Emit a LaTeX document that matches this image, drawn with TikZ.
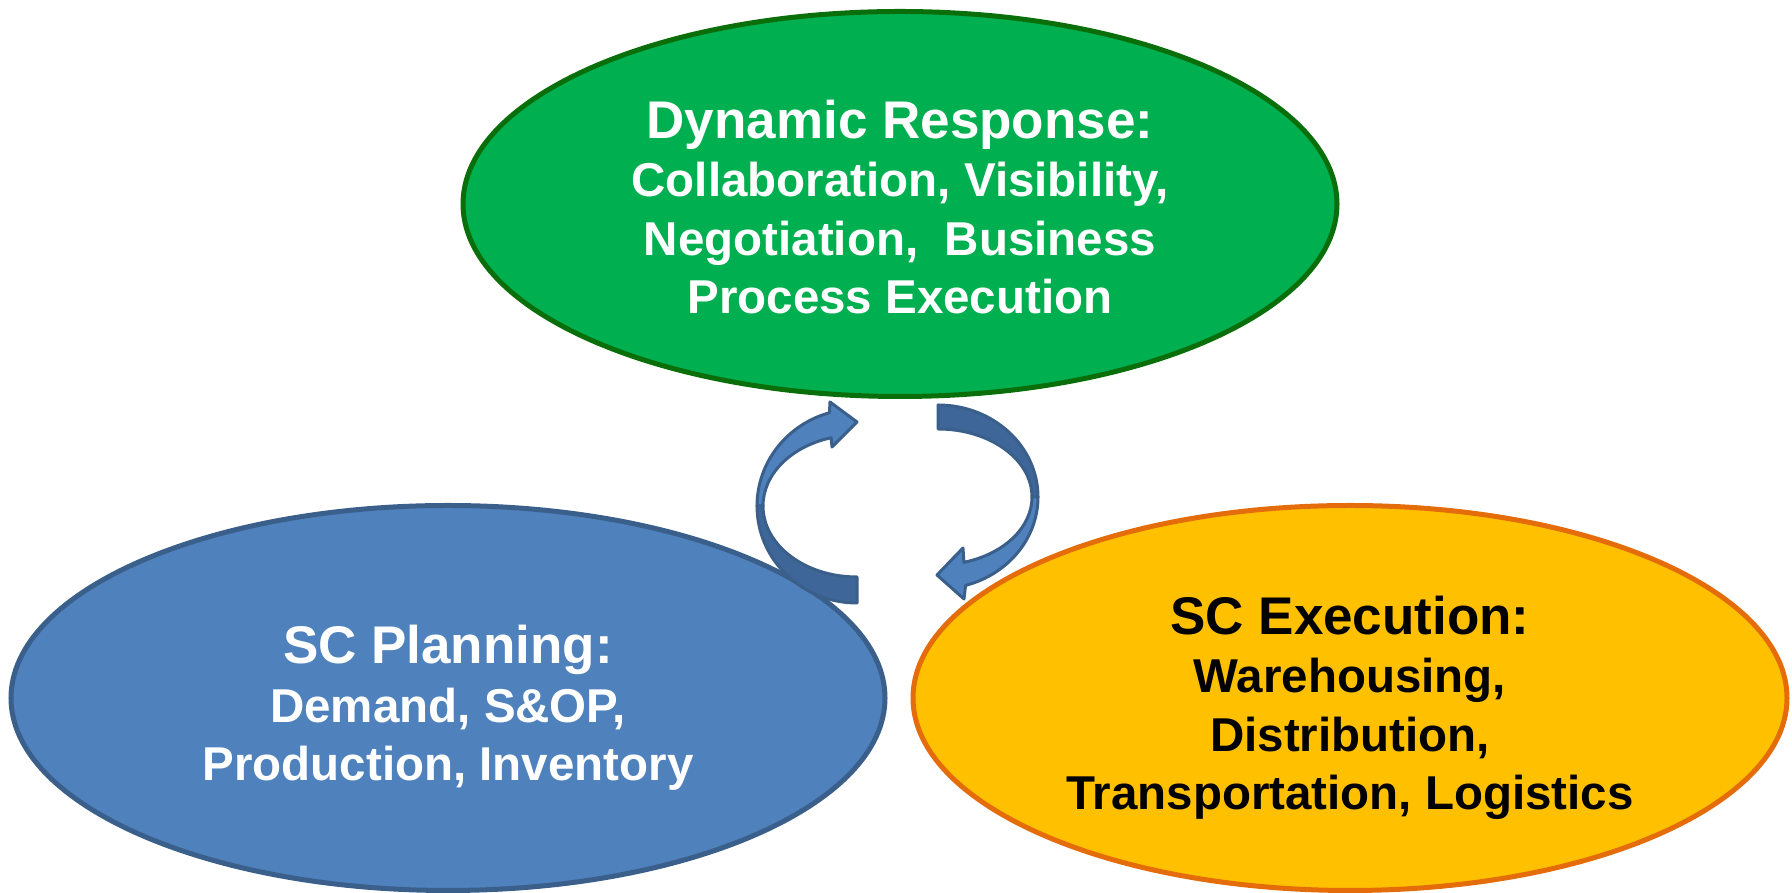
\documentclass[tikz,border=0pt]{standalone}
\usepackage{fontspec}
\setmainfont{Liberation Sans}
\usetikzlibrary{shapes.geometric}

\definecolor{greenfill}{HTML}{00B050}
\definecolor{greenline}{HTML}{0A6E0A}
\definecolor{bluefill}{HTML}{4F81BD}
\definecolor{blueline}{HTML}{3A5F8B}
\definecolor{goldfill}{HTML}{FFC000}
\definecolor{goldline}{HTML}{E46C0A}
\definecolor{arrowback}{HTML}{3F6698}

\tikzset{
  bubble/.style={ellipse, draw, line width=5pt, minimum width=874pt,
    minimum height=385pt, inner sep=0pt, align=center,
    font=\bfseries\fontsize{47.5}{58.5}\selectfont},
  cyclearrow/.style={draw=blueline, line width=3pt, line join=round}
}
\newcommand{\bubbletitle}[2][58pt]{{\fontsize{53}{60}\selectfont\rule{0pt}{#1}#2}}

\begin{document}
\begin{tikzpicture}[x=1pt,y=1pt]
  \useasboundingbox (0,0) rectangle (1792,893);

  \node[bubble, fill=bluefill, draw=blueline, text=white] (planning) at (448,195)
    {\bubbletitle{SC Planning:}\\ Demand, S\&OP,\\ Production, Inventory};
  \node[bubble, fill=goldfill, draw=goldline, text=black] (execution) at (1350,195)
    {\bubbletitle{SC Execution:}\\ Warehousing,\\ Distribution,\\ Transportation, Logistics};
  \node[bubble, fill=greenfill, draw=greenline, text=white] (response) at (900,689)
    {\bubbletitle[44pt]{Dynamic Response:}\\ Collaboration, Visibility,\\ Negotiation,\ \ Business\\ Process Execution};

  % left arrow, planning up to response
  \begin{scope}[shift={(857,387)}]
    \filldraw[cyclearrow, fill=arrowback] (180:100 and 97)
      arc[start angle=180, end angle=270, x radius=100, y radius=97]
      -- (270:94 and 71) arc[start angle=270, end angle=180, x radius=94, y radius=71] -- cycle;
    \filldraw[cyclearrow, fill=bluefill] (106:100 and 97)
      arc[start angle=106, end angle=180, x radius=100, y radius=97]
      -- (180:94 and 71) arc[start angle=180, end angle=106, x radius=94, y radius=71]
      -- (-25,59) -- (0,84) -- (-27,104) -- cycle;
  \end{scope}

  % right arrow, response down to execution
  \begin{scope}[shift={(938,396)}]
    \filldraw[cyclearrow, fill=arrowback] (0:100 and 92)
      arc[start angle=0, end angle=90, x radius=100, y radius=92]
      -- (90:94 and 68) arc[start angle=90, end angle=0, x radius=94, y radius=68] -- cycle;
    \filldraw[cyclearrow, fill=bluefill] (286:100 and 92)
      arc[start angle=286, end angle=360, x radius=100, y radius=92]
      -- (0:94 and 68) arc[start angle=360, end angle=286, x radius=94, y radius=68]
      -- (25,-51) -- (-1,-78) -- (26,-102) -- cycle;
  \end{scope}
\end{tikzpicture}
\end{document}
